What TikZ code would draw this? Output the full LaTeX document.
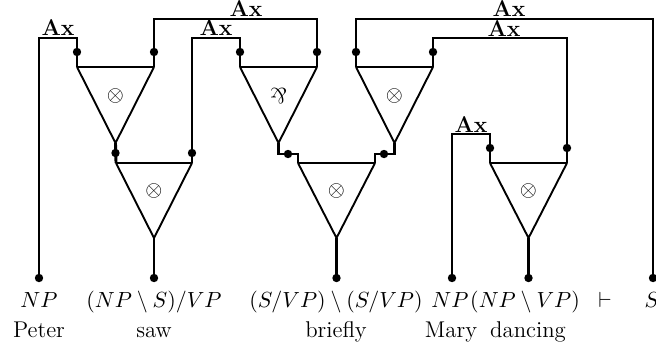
\documentclass[tikz,border=0pt]{standalone}
\usepackage{graphicx}
\begin{document}
\begin{tikzpicture}[x=0.5pt,y=-0.5pt,
  every node/.style={font=\fontsize{11.4pt}{13.5pt}\selectfont},
  wire/.style={line width=1.45pt},
  triside/.style={line width=0.95pt},
  dotc/.style={circle,fill,inner sep=0pt,minimum size=4.2pt},
  axlabel/.style={inner sep=0pt,font=\fontsize{11.4pt}{13.5pt}\selectfont\bfseries},
  formula/.style={anchor=base,inner sep=0pt},
  word/.style={anchor=base,inner sep=0pt},
  conn/.style={inner sep=0pt}]
\useasboundingbox (0,0) rectangle (656,348);
% triangle corners
\coordinate (t1l) at (77,67);  \coordinate (t1r) at (154,67); \coordinate (t1a) at (115.5,143);
\coordinate (t2l) at (116,163); \coordinate (t2r) at (192,163); \coordinate (t2a) at (154,238);
\coordinate (t3l) at (240,67); \coordinate (t3r) at (317,67); \coordinate (t3a) at (278.5,143);
\coordinate (t4l) at (298,163); \coordinate (t4r) at (375,163); \coordinate (t4a) at (336.5,238);
\coordinate (t5l) at (356,67); \coordinate (t5r) at (433,67); \coordinate (t5a) at (394.5,143);
\coordinate (t6l) at (490,163); \coordinate (t6r) at (567,163); \coordinate (t6a) at (528.5,238);
% triangles
\foreach \t in {t1,t2,t3,t4,t5,t6}{
  \draw[triside] (\t l) -- (\t a) -- (\t r);
  \draw[wire] (\t l) -- (\t r);
}
% connective symbols
\node[conn] (c1) at (115.5,96) {$\otimes$};
\node[conn] (c2) at (154,191) {$\otimes$};
\node[conn] (c3) at (278.5,96) {\rotatebox[origin=c]{180}{$\&$}};
\node[conn] (c4) at (336.5,191) {$\otimes$};
\node[conn] (c5) at (394.5,96) {$\otimes$};
\node[conn] (c6) at (528.5,191) {$\otimes$};
% bottom end points
\coordinate (bPeter) at (39,278);
\coordinate (bSaw) at (154,278);
\coordinate (bBriefly) at (336.5,278);
\coordinate (bMary) at (452,278);
\coordinate (bDancing) at (528.5,278);
\coordinate (bS) at (653,278);
% wires
\draw[wire] (bPeter) -- (39,38) -- (77,38) -- (t1l);
\draw[wire] (t1r) -- (154,19) -- (317,19) -- (t3r);
\draw[wire] (t2r) -- (192,38) -- (240,38) -- (t3l);
\draw[wire] (t1a) -- (t2l);
\draw[wire] (t3a) -- (278.5,154) -- (298,154) -- (t4l);
\draw[wire] (t5a) -- (394.5,154) -- (375,154) -- (t4r);
\draw[wire] (t2a) -- (bSaw);
\draw[wire] (t4a) -- (bBriefly);
\draw[wire] (t6a) -- (bDancing);
\draw[wire] (t5l) -- (356,19) -- (653,19) -- (bS);
\draw[wire] (t5r) -- (433,38) -- (567,38) -- (t6r);
\draw[wire] (bMary) -- (452,134) -- (490,134) -- (t6l);
% dots
\foreach \p in {bPeter,bSaw,bBriefly,bMary,bDancing,bS}{\node[dotc] at (\p) {};}
\node[dotc] (d1) at (77,52) {};
\node[dotc] (d2) at (154,52) {};
\node[dotc] (d3) at (240,52) {};
\node[dotc] (d4) at (317,52) {};
\node[dotc] (d5) at (356,52) {};
\node[dotc] (d6) at (433,52) {};
\node[dotc] (d7) at (115.5,153) {};
\node[dotc] (d8) at (192,153) {};
\node[dotc] (d9) at (288,154) {};
\node[dotc] (d10) at (384,154) {};
\node[dotc] (d11) at (490,148) {};
\node[dotc] (d12) at (567,148) {};
% Ax labels
\node[axlabel] (ax1) at (58,28) {Ax};
\node[axlabel] (ax2) at (246,8.5) {Ax};
\node[axlabel] (ax3) at (216,28) {Ax};
\node[axlabel] (ax4) at (509,8.5) {Ax};
\node[axlabel] (ax5) at (504,28.5) {Ax};
\node[axlabel] (ax6) at (471,125) {Ax};
% formulas
\node[formula] (f1) at (39,307) {$NP$};
\node[formula] (f2) at (154,307) {$(NP\setminus S)/VP$};
\node[formula] (f3) at (336,307) {$(S/VP)\setminus(S/VP)$};
\node[formula] (f4) at (450,307) {$NP$};
\node[formula] (f5) at (525,307) {$(NP\setminus VP)$};
\node[formula] (f6) at (605,307) {$\vdash$};
\node[formula] (f7) at (652,307) {$S$};
% words
\node[word] (w1) at (39,337) {Peter};
\node[word] (w2) at (154,337) {saw};
\node[word] (w3) at (336,337) {briefly};
\node[word] (w4) at (451,337) {Mary};
\node[word] (w5) at (528,337) {dancing};
\end{tikzpicture}
\end{document}
